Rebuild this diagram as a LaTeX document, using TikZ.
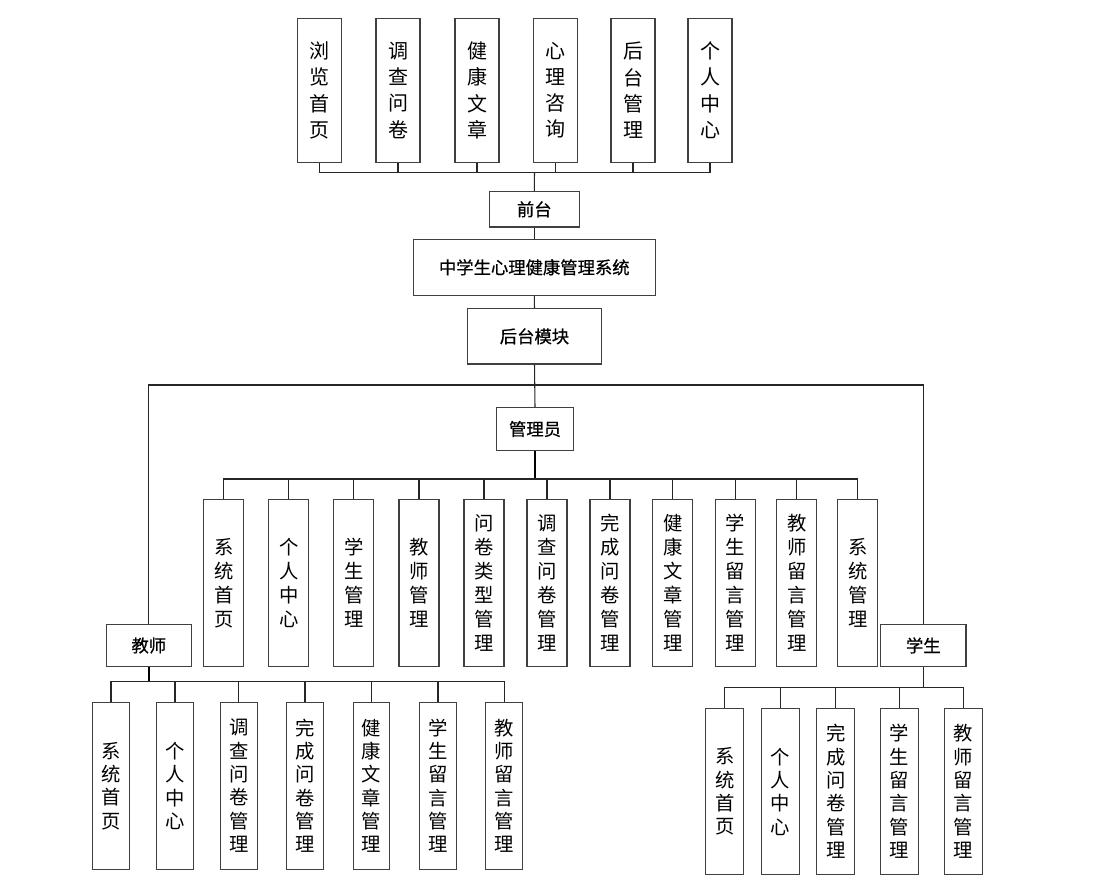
\documentclass[tikz,border=0pt]{standalone}
\usepackage{fontspec}
\setmainfont{Noto Sans CJK SC}
\newfontfamily\medfont[FakeBold=0.7]{Noto Sans CJK SC}
\begin{document}
\begin{tikzpicture}[x=0.75pt,y=-0.75pt,
  box/.style={draw=black!75, line width=0.8pt, fill=white, inner sep=0pt, align=center},
  hbox/.style={box, font={\medfont\fontsize{13}{15}\selectfont}},
  topv/.style={box, minimum width=33pt, minimum height=108pt, font={\fontsize{15}{19.7}\selectfont}},
  admv/.style={box, minimum width=30pt, minimum height=125.2pt, font={\fontsize{14.5}{18}\selectfont}},
  teav/.style={box, minimum width=27.5pt, minimum height=125.2pt, font={\fontsize{14.5}{17.5}\selectfont}},
  stuv/.style={box, minimum width=28.5pt, minimum height=124.9pt, font={\fontsize{14.5}{17.5}\selectfont}},
  conn/.style={draw=black!85, line width=0.8pt},
  thickconn/.style={draw=black, line width=1.5pt}]
\useasboundingbox (0,0) rectangle (1102,892);

% top row
\node[topv] (t1) at (319.5,90.3) {浏\\览\\首\\页};
\node[topv] (t2) at (398,90.3) {调\\查\\问\\卷};
\node[topv] (t3) at (477,90.3) {健\\康\\文\\章};
\node[topv] (t4) at (555.5,90.3) {心\\理\\咨\\询};
\node[topv] (t5) at (633,90.3) {后\\台\\管\\理};
\node[topv] (t6) at (710,90.3) {个\\人\\中\\心};

\node[hbox, minimum width=67.5pt, minimum height=26.5pt] (qt) at (534.3,209.3) {前台};
\node[hbox, minimum width=181.5pt, minimum height=42pt] (sys) at (534.3,267.3) {中学生心理健康管理系统};
\node[hbox, minimum width=100.2pt, minimum height=41.5pt] (bk) at (534.5,336.3) {后台模块};
\node[hbox, minimum width=57.2pt, minimum height=32pt] (adm) at (535,429) {管理员};
\node[hbox, minimum width=63.75pt, minimum height=31.8pt] (js) at (148.8,645.5) {教师};
\node[hbox, minimum width=64pt, minimum height=31.8pt] (xs) at (923.3,645.5) {学生};

% admin children
\node[admv] (a1) at (223.7,583.2) {系\\统\\首\\页};
\node[admv] (a2) at (288.7,583.2) {个\\人\\中\\心};
\node[admv] (a3) at (353.7,583.2) {学\\生\\管\\理};
\node[admv] (a4) at (419,583.2) {教\\师\\管\\理};
\node[admv] (a5) at (484,583.2) {问\\卷\\类\\型\\管\\理};
\node[admv] (a6) at (547,583.2) {调\\查\\问\\卷\\管\\理};
\node[admv] (a7) at (610,583.2) {完\\成\\问\\卷\\管\\理};
\node[admv] (a8) at (672.7,583.2) {健\\康\\文\\章\\管\\理};
\node[admv] (a9) at (735.3,583.2) {学\\生\\留\\言\\管\\理};
\node[admv] (a10) at (796.7,583.2) {教\\师\\留\\言\\管\\理};
\node[admv] (a11) at (857.7,583.2) {系\\统\\管\\理};

% teacher children
\node[teav] (c1) at (111,785.8) {系\\统\\首\\页};
\node[teav] (c2) at (175,785.8) {个\\人\\中\\心};
\node[teav] (c3) at (238.7,785.8) {调\\查\\问\\卷\\管\\理};
\node[teav] (c4) at (305,785.8) {完\\成\\问\\卷\\管\\理};
\node[teav] (c5) at (371.5,785.8) {健\\康\\文\\章\\管\\理};
\node[teav] (c6) at (438,785.8) {学\\生\\留\\言\\管\\理};
\node[teav] (c7) at (504.2,785.8) {教\\师\\留\\言\\管\\理};

% student children
\node[stuv] (s1) at (724.7,791.5) {系\\统\\首\\页};
\node[stuv] (s2) at (780.3,791.5) {个\\人\\中\\心};
\node[stuv] (s3) at (835.8,791.5) {完\\成\\问\\卷\\管\\理};
\node[stuv] (s4) at (899.5,791.5) {学\\生\\留\\言\\管\\理};
\node[stuv] (s5) at (963.3,791.5) {教\\师\\留\\言\\管\\理};

% bus coordinates
\coordinate (tb) at (534.5,172.3);
\coordinate (hb) at (534.5,385);
\coordinate (ab) at (535,479);
\coordinate (jb) at (148.8,681.7);
\coordinate (xb) at (923.3,687.7);

% connectors
\foreach \i in {1,...,6} \draw[conn] (t\i.south) |- (tb);
\draw[conn] (tb) -- (qt.north);
\draw[conn] (qt.south) -- (sys.north);
\draw[conn] (sys.south) -- (bk.north);
\draw[conn] (bk.south) -- (adm.north);
\draw[conn] (hb) -| (js.north);
\draw[conn] (hb) -| (xs.north);
\draw[thickconn] (adm.south) -- (ab);
\foreach \i in {1,...,11} \draw[conn] (a\i.north) |- (ab);
\draw[thickconn] (js.south) -- (jb);
\foreach \i in {1,...,7} \draw[conn] (c\i.north) |- (jb);
\draw[conn] (xs.south) -- (xb);
\foreach \i in {1,...,5} \draw[conn] (s\i.north) |- (xb);
\end{tikzpicture}
\end{document}
